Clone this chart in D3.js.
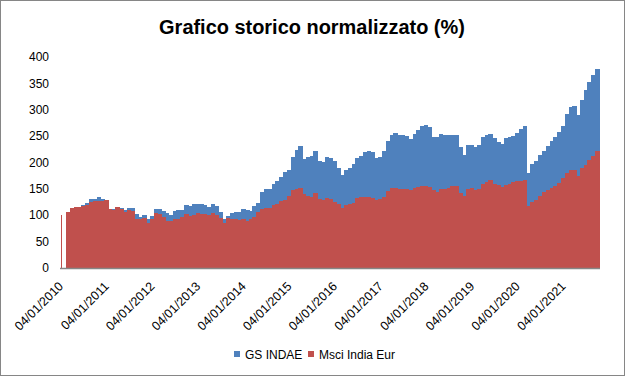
<!DOCTYPE html>
<html><head><meta charset="utf-8">
<script src="https://cdn.jsdelivr.net/npm/d3@7"></script>
<style>body{margin:0;background:#fff}svg{display:block}</style>
</head><body>
<svg id="chart" width="625" height="376"></svg>
<script>
const title = "Grafico storico normalizzato (%)";
const seriesNames = ["GS INDAE", "Msci India Eur"];
const dates = ["2010-01-04",
"2010-02-15","2010-03-15","2010-04-15","2010-05-15","2010-06-15","2010-07-15","2010-08-15","2010-09-15","2010-10-15","2010-11-15","2010-12-15",
"2011-01-15","2011-02-15","2011-03-15","2011-04-15","2011-05-15","2011-06-15","2011-07-15","2011-08-15","2011-09-15","2011-10-15","2011-11-15","2011-12-15",
"2012-01-15","2012-02-15","2012-03-15","2012-04-15","2012-05-15","2012-06-15","2012-07-15","2012-08-15","2012-09-15","2012-10-15","2012-11-15","2012-12-15",
"2013-01-15","2013-02-15","2013-03-15","2013-04-15","2013-05-15","2013-06-15","2013-07-15","2013-08-15","2013-09-15","2013-10-15","2013-11-15","2013-12-15",
"2014-01-15","2014-02-15","2014-03-15","2014-04-15","2014-05-15","2014-06-15","2014-07-15","2014-08-15","2014-09-15","2014-10-15","2014-11-15","2014-12-15",
"2015-01-15","2015-02-15","2015-03-15","2015-04-15","2015-05-15","2015-06-15","2015-07-15","2015-08-15","2015-09-15","2015-10-15","2015-11-15","2015-12-15",
"2016-01-15","2016-02-15","2016-03-15","2016-04-15","2016-05-15","2016-06-15","2016-07-15","2016-08-15","2016-09-15","2016-10-15","2016-11-15","2016-12-15",
"2017-01-15","2017-02-15","2017-03-15","2017-04-15","2017-05-15","2017-06-15","2017-07-15","2017-08-15","2017-09-15","2017-10-15","2017-11-15","2017-12-15",
"2018-01-15","2018-02-15","2018-03-15","2018-04-15","2018-05-15","2018-06-15","2018-07-15","2018-08-15","2018-09-15","2018-10-15","2018-11-15","2018-12-15",
"2019-01-15","2019-02-15","2019-03-15","2019-04-15","2019-05-15","2019-06-15","2019-07-15","2019-08-15","2019-09-15","2019-10-15","2019-11-15","2019-12-15",
"2020-01-15","2020-02-15","2020-03-15","2020-04-15","2020-05-15","2020-06-15","2020-07-15","2020-08-15","2020-09-15","2020-10-15","2020-11-15","2020-12-15",
"2021-01-15","2021-02-15","2021-03-15","2021-04-15","2021-05-15","2021-06-15","2021-07-15","2021-08-15","2021-09-15"];
const endDate = "2021-10-15";
const gsIndae = [100,
107,114,115,116,119,123,130,130,134,130,129,
111,111,116,113,110,113,113,103,97,100,93,98,
111,111,109,104,100,108,110,110,119,118,121,122,
121,119,116,121,117,106,92,99,104,107,107,111,
110,109,117,123,144,149,149,160,164,173,182,186,
210,223,231,207,210,212,222,203,201,211,208,203,
190,177,186,190,198,208,213,220,221,220,208,211,
222,240,252,255,252,252,250,245,254,262,270,271,
268,248,248,254,252,252,252,252,230,214,234,233,
229,233,249,252,254,246,239,235,247,249,251,255,
264,270,180,197,203,214,222,231,240,248,258,270,
292,305,308,290,318,337,352,366,377];
const msciIndia = [100,
107,114,115,116,118,119,125,127,127,127,128,
111,110,115,112,107,110,108,93,92,94,85,92,
104,102,96,90,89,93,93,96,102,99,101,104,
102,102,100,104,101,94,85,95,93,92,91,92,
90,92,96,106,111,114,114,119,122,127,129,136,
147,150,151,141,136,135,142,130,129,132,130,126,
121,114,119,121,124,132,134,135,135,133,129,130,
134,146,151,152,149,149,149,148,151,154,155,155,
154,147,145,149,149,151,156,155,142,137,150,151,
148,150,159,163,166,160,157,153,158,160,163,165,
165,166,117,125,128,137,144,147,151,156,162,170,
181,185,185,175,190,195,205,213,221];
const yTicks = [0, 50, 100, 150, 200, 250, 300, 350, 400];
const xTickLabels = ["04/01/2010","04/01/2011","04/01/2012","04/01/2013","04/01/2014","04/01/2015","04/01/2016","04/01/2017","04/01/2018","04/01/2019","04/01/2020","04/01/2021"];
const colors = ["#4F81BD", "#C0504D"];

const svg = d3.select("#chart");
const W = 625, H = 376;
const parseISO = d3.timeParse("%Y-%m-%d");
const parseLbl = d3.timeParse("%d/%m/%Y");
const dts = dates.map(parseISO);
const x = d3.scaleTime().domain([dts[0], parseISO(endDate)]).range([61, 599]);
const y = d3.scaleLinear().domain([0, 400]).range([268, 57]);
const font = "'Liberation Sans', Arial, sans-serif";

svg.append("rect").attr("x", 0.5).attr("y", 0.5).attr("width", W - 1).attr("height", H - 1)
  .attr("fill", "#fff").attr("stroke", "#868686").attr("stroke-width", 1);

// title
const t = svg.append("text").attr("x", 312).attr("y", 34).attr("text-anchor", "middle")
  .attr("font-family", font).attr("font-weight", "bold").attr("font-size", 20)
  .attr("fill", "#000").text(title);
const tw = t.node().getComputedTextLength();
if (tw > 0) t.attr("font-size", 20 * 306 / tw);

// bars
const series = [gsIndae, msciIndia];
series.forEach((vals, si) => {
  const g = svg.append("g").attr("shape-rendering", "crispEdges");
  vals.forEach((v, i) => {
    const x0 = x(dts[i]);
    const x1 = i === 0 ? x0 + 1.2 : (i + 1 < dts.length ? x(dts[i + 1]) : x(parseISO(endDate)));
    g.append("rect").attr("x", x0).attr("y", y(v))
      .attr("width", Math.max(1, x1 - x0 + (i === 0 ? 0 : 0.6))).attr("height", y(0) - y(v))
      .attr("fill", colors[si]);
  });
});

// x axis line
svg.append("line").attr("x1", 60).attr("x2", 600).attr("y1", 268.5).attr("y2", 268.5)
  .attr("stroke", "#868686").attr("stroke-width", 1.5);

// y labels
svg.append("g").selectAll("text").data(yTicks).join("text")
  .attr("x", 49).attr("y", d => y(d)).attr("dy", "0.35em").attr("text-anchor", "end")
  .attr("font-family", font).attr("font-size", 12).attr("fill", "#000").text(d => d);

// x labels
svg.append("g").selectAll("text").data(xTickLabels).join("text")
  .attr("transform", d => `translate(${x(parseLbl(d)) + 3},${287}) rotate(-45)`)
  .attr("text-anchor", "end").attr("font-family", font).attr("font-size", 12.5).attr("fill", "#000")
  .text(d => d);

// legend
const legendX = [234, 308];
seriesNames.forEach((n, i) => {
  svg.append("rect").attr("x", legendX[i]).attr("y", 351).attr("width", 6).attr("height", 6).attr("fill", colors[i]);
  svg.append("text").attr("x", legendX[i] + 11).attr("y", 359).attr("font-family", font)
    .attr("font-size", 12).attr("fill", "#000").text(n);
});
</script>
</body></html>
